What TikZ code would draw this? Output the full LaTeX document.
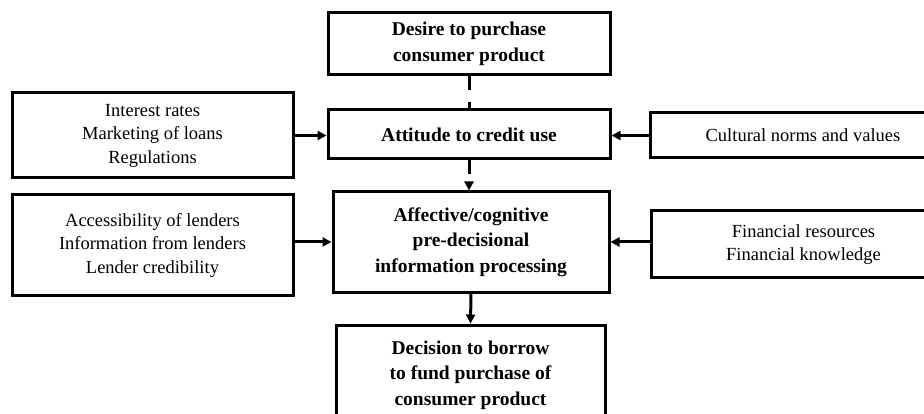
\documentclass[tikz,border=0pt]{standalone}
\usepackage{fontspec}
\setmainfont{Liberation Serif}
\usetikzlibrary{arrows.meta}
\begin{document}
\begin{tikzpicture}[x=1pt,y=-1pt,
  box/.style={draw,line width=3pt,rectangle,align=center,inner sep=0pt},
  mainbox/.style={box,font=\fontsize{19.5}{25.5}\selectfont\bfseries},
  sidebox/.style={box,font=\fontsize{18.5}{23.5}\selectfont},
  conn/.style={line width=3pt,-{Triangle[length=9pt,width=9pt]}},
  dashconn/.style={conn,dash pattern=on 14pt off 9pt}]
\useasboundingbox (0,0) rectangle (924,414);
\clip (0,0) rectangle (924,414);
\fill[white] (0,0) rectangle (924,414);
\node[mainbox,minimum width=282pt,minimum height=62pt] (desire) at (469,44) {Desire to purchase\\consumer product};
\node[mainbox,minimum width=282pt,minimum height=49pt] (attitude) at (469,134.5) {Attitude to credit use};
\node[mainbox,minimum width=276pt,minimum height=100pt] (affect) at (471,242) {Affective/cognitive\\pre-decisional\\information processing};
\node[mainbox,minimum width=269pt,minimum height=100pt] (decision) at (470.5,375) {Decision to borrow\\to fund purchase of\\consumer product};
\node[sidebox,minimum width=281pt,minimum height=85pt] (leftA) at (152.5,135.5) {Interest rates\\Marketing of loans\\Regulations};
\node[sidebox,minimum width=281pt,minimum height=100pt] (leftB) at (152.5,245) {Accessibility of lenders\\Information from lenders\\Lender credibility};
\node[sidebox,minimum width=306pt,minimum height=45pt] (rightA) at (803,135.5) {Cultural norms and values};
\node[sidebox,minimum width=305pt,minimum height=67pt] (rightB) at (803.5,244.5) {Financial resources\\Financial knowledge};
\draw[line width=3pt,dash pattern=on 14pt off 12pt] (desire.south) -- (attitude.north);
\draw[dashconn] (attitude.south) -- (attitude.south |- affect.north);
\draw[conn] (affect.south) -- (decision.north);
\draw[conn] (leftA.east) -- (leftA.east -| attitude.west);
\draw[conn] (rightA.west) -- (rightA.west -| attitude.east);
\draw[conn] (leftB.east |- affect.west) -- (affect.west);
\draw[conn] (rightB.west |- affect.east) -- (affect.east);
\end{tikzpicture}
\end{document}
